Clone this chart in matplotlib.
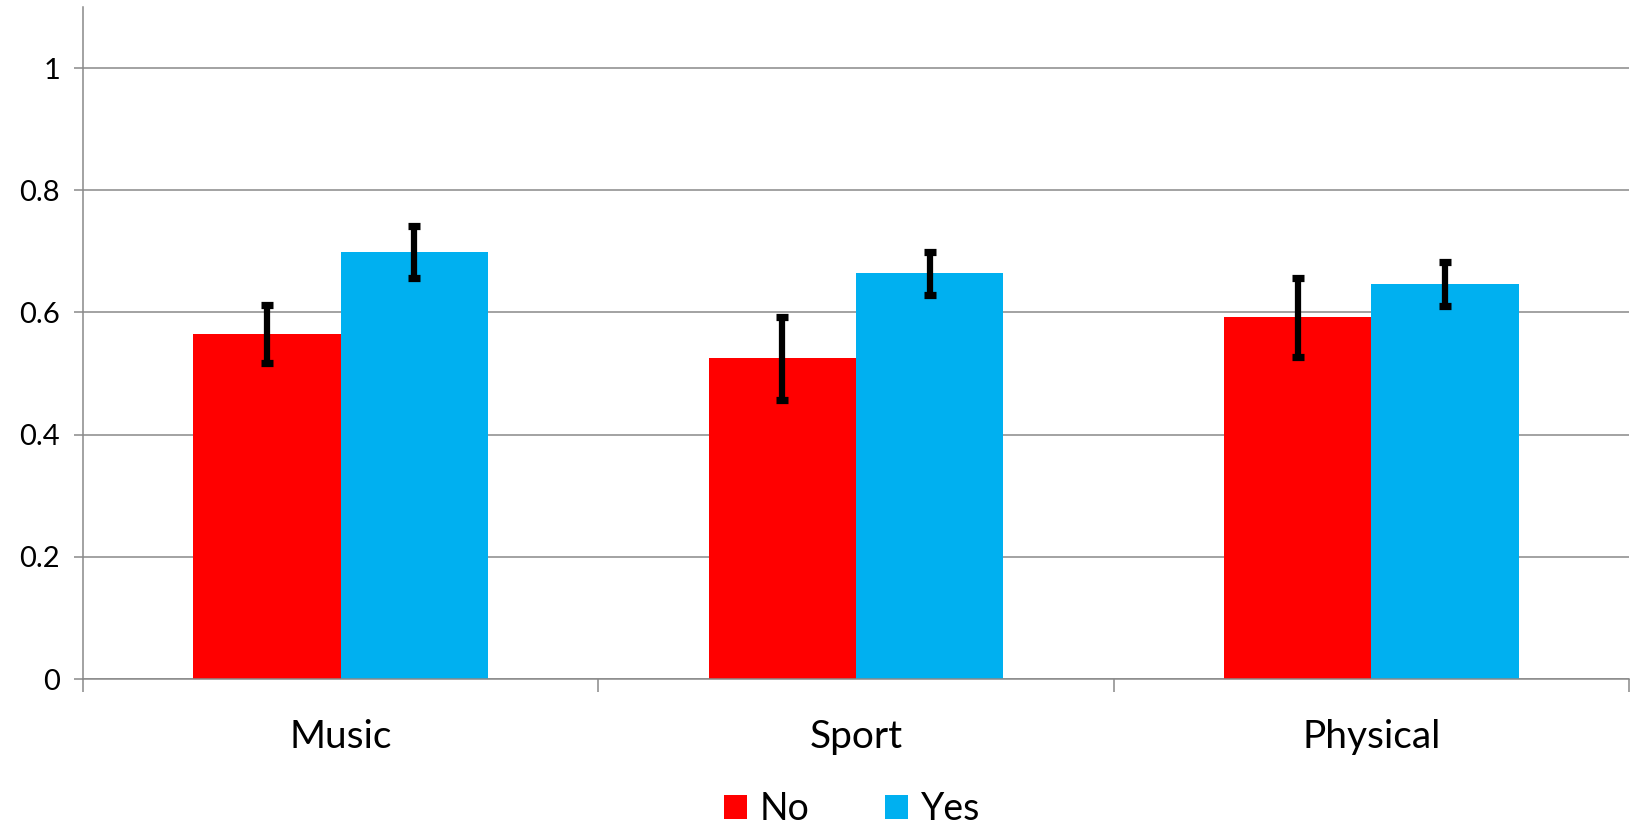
import matplotlib
matplotlib.use("Agg")
import matplotlib.pyplot as plt
import numpy as np

categories = ["Music", "Sport", "Physical"]
no_values = [0.565, 0.525, 0.592]
yes_values = [0.699, 0.664, 0.646]
no_errors = [0.047, 0.068, 0.065]
yes_errors = [0.042, 0.035, 0.036]
series_labels = ["No", "Yes"]
ytick_values = [0, 0.2, 0.4, 0.6, 0.8, 1.0]
ytick_labels = ["0", "0.2", "0.4", "0.6", "0.8", "1"]

plt.rcParams['font.family'] = ['Lato', 'DejaVu Sans']

fig = plt.figure(figsize=(16.32, 8.26), dpi=100)
ax = fig.add_axes([83/1632, 1 - 679/826, (1629 - 83)/1632, (679 - 7)/826])

grid_c = "#898989"
red = "#FF0000"
blue = "#00B0F0"
w = 1 / 3.5
x = np.arange(len(categories))

ax.bar(x - w/2, no_values, width=w, color=red, label=series_labels[0], zorder=2)
ax.bar(x + w/2, yes_values, width=w, color=blue, label=series_labels[1], zorder=2)
ekw = dict(fmt='none', ecolor='black', elinewidth=4.5, capsize=4.6, capthick=5.2, zorder=3)
ax.errorbar(x - w/2, no_values, yerr=no_errors, **ekw)
ax.errorbar(x + w/2, yes_values, yerr=yes_errors, **ekw)

ax.set_xlim(-0.5, len(categories) - 0.5)
ax.set_ylim(0, 1.1)
ax.set_yticks(ytick_values)
ax.set_yticklabels(ytick_labels)
ax.yaxis.grid(True, color=grid_c, linewidth=1.1, zorder=0)
ax.set_axisbelow(True)

ax.set_xticks(x)
ax.set_xticklabels(categories, fontsize=28)
ax.set_xticks(np.arange(len(categories) + 1) - 0.5, minor=True)
ax.tick_params(axis='x', which='major', length=0, pad=29)
ax.tick_params(axis='x', which='minor', length=9.4, width=1.1, color=grid_c, direction='out')
ax.tick_params(axis='y', length=6.5, width=1.1, color=grid_c, direction='out', labelsize=21, pad=10)

for s in ['top', 'right']:
    ax.spines[s].set_visible(False)
for s in ['left', 'bottom']:
    ax.spines[s].set_color(grid_c)
    ax.spines[s].set_linewidth(1.1)

handles, labels = ax.get_legend_handles_labels()
fig.legend(handles, labels, loc='center', bbox_to_anchor=(852/1632, 1 - 809/826),
           ncol=2, frameon=False, fontsize=27, handlelength=0.62, handleheight=0.62,
           handletextpad=0.35, columnspacing=2.0, borderpad=0, borderaxespad=0)

fig.savefig("out.png", dpi=100)
